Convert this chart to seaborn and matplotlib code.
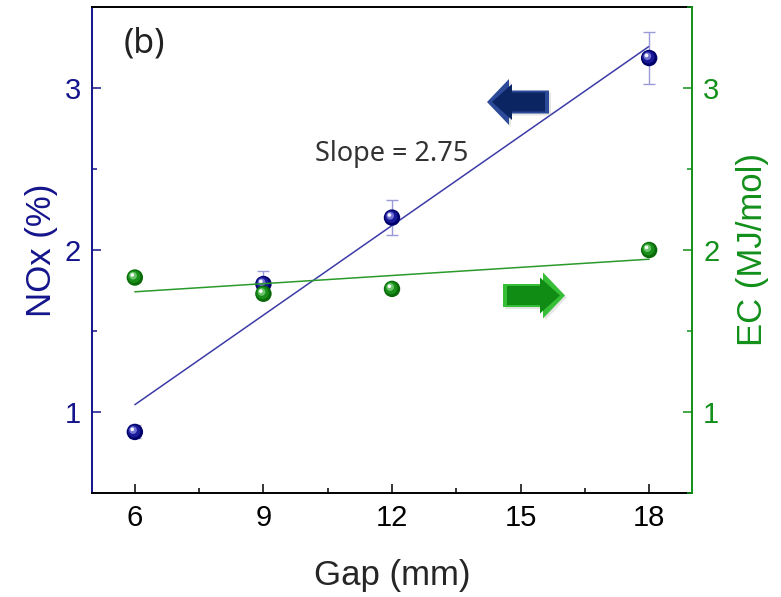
import matplotlib
matplotlib.use("Agg")
import matplotlib.pyplot as plt
import matplotlib.transforms as mtransforms
from matplotlib.patches import Polygon
from matplotlib.ticker import MultipleLocator, FixedLocator
import numpy as np
import pandas as pd
import seaborn as sns

# Measured data
gap_mm = [6, 9, 12, 18]
nox_pct = [0.877, 1.79, 2.20, 3.185]
nox_err = [0.04, 0.08, 0.11, 0.16]
ec_mj_mol = [1.83, 1.73, 1.76, 2.00]

x_ticks = [6, 9, 12, 15, 18]
y_ticks = [1, 2, 3]
slope_label = "Slope = 2.75"
panel_label = "(b)"

NAVY = "#14148c"
GREEN = "#12901a"

sns.set_style("ticks")
plt.rcParams["font.family"] = ["Liberation Sans", "DejaVu Sans"]

df = pd.DataFrame({"gap": gap_mm, "nox": nox_pct, "err": nox_err, "ec": ec_mj_mol})

fig = plt.figure(figsize=(7.81, 5.97), dpi=100)
ax = fig.add_axes([92 / 781, 1 - 493 / 597, 600 / 781, 486 / 597])
ax2 = ax.twinx()

# fit lines
sns.regplot(data=df, x="gap", y="nox", ax=ax, scatter=False, ci=None,
            line_kws=dict(color="#3c3ca8", lw=1.1, zorder=2))
sns.regplot(data=df, x="gap", y="ec", ax=ax2, scatter=False, ci=None,
            line_kws=dict(color="#2a9a2a", lw=1.1, zorder=2))

# error bars
ax.errorbar(df["gap"], df["nox"], yerr=df["err"], fmt="none",
            ecolor="#9a9ad8", elinewidth=1.0, capsize=4.5, capthick=1.0, zorder=3)


def shiny_points(axis, x, y, shades):
    """Draw glossy ball markers as stacked, offset discs."""
    sns.scatterplot(x=x, y=y, ax=axis, s=140, color=shades[0], edgecolor="none",
                    zorder=4, legend=False)
    layers = [(shades[1], 80, -0.8), (shades[2], 30, -1.8), ("#ffffff", 7, -2.6)]
    for z, (col, size, off) in enumerate(layers):
        tr = mtransforms.offset_copy(axis.transData, fig=fig, x=off, y=-off, units="dots")
        axis.scatter(x, y, s=size, color=col, edgecolor="none", transform=tr,
                     zorder=5 + z, alpha=0.95)


shiny_points(ax, df["gap"], df["nox"], ["#00006a", "#1c1c9c", "#7a7ad8"])
shiny_points(ax2, df["gap"], df["ec"], ["#0a6a0a", "#1a921a", "#70c870"])

# axes limits and ticks
for a in (ax, ax2):
    a.set_xlim(5, 19)
    a.set_ylim(0.5, 3.5)
    a.yaxis.set_major_locator(FixedLocator(y_ticks))
    a.yaxis.set_minor_locator(MultipleLocator(0.5))
ax.xaxis.set_major_locator(FixedLocator(x_ticks))
ax.xaxis.set_minor_locator(MultipleLocator(1.5))

ax.tick_params(axis="x", which="major", direction="in", length=6.5, width=1.1,
               labelsize=21, colors="black", pad=8)
ax.tick_params(axis="x", which="minor", direction="in", length=3.8, width=1.1, colors="black")
ax.tick_params(axis="y", which="major", direction="in", length=6.5, width=1.1,
               labelsize=21, colors=NAVY, pad=8)
ax.tick_params(axis="y", which="minor", direction="in", length=3.8, width=1.1, colors=NAVY)
ax2.tick_params(axis="y", which="major", direction="in", length=6.5, width=1.1,
                labelsize=21, colors=GREEN, pad=8)
ax2.tick_params(axis="y", which="minor", direction="in", length=3.8, width=1.1, colors=GREEN)

for s in ("left", "top", "bottom", "right"):
    ax.spines[s].set_linewidth(1.4)
    ax2.spines[s].set_linewidth(1.4)
ax.spines["left"].set_color(NAVY)
ax.spines["bottom"].set_color("black")
ax.spines["top"].set_color("black")
ax.spines["right"].set_visible(False)
ax2.spines["right"].set_color(GREEN)
for s in ("left", "top", "bottom"):
    ax2.spines[s].set_visible(False)

ax.set_xlabel("Gap (mm)", fontsize=25, labelpad=19)
ax.set_ylabel("NOx (%)", fontsize=25, color=NAVY, labelpad=5)
ax2.set_ylabel("EC (MJ/mol)", fontsize=25, color=GREEN, labelpad=12)

ax.text(10.21, 2.59, slope_label, fontsize=19.5, color="#333333",
        family=["Noto Sans", "DejaVu Sans"], ha="left", va="center", zorder=6)
ax.text(0.052, 0.925, panel_label, transform=ax.transAxes, fontsize=24.5, color="#222222",
        family=["Noto Sans", "DejaVu Sans"], ha="left", va="center")


def px_to_axes(px, py):
    return ((px - 92) / 600.0, (493 - py) / 486.0)


def arrow_outline(tip, base, tail, yc, head_h, shaft_h):
    return [(tip, yc), (base, yc - head_h), (base, yc - shaft_h), (tail, yc - shaft_h),
            (tail, yc + shaft_h), (base, yc + shaft_h), (base, yc + head_h)]


def bevel_arrow(tip, base, tail, yc, head_h, shaft_h, light, dark, shadow="#9a9a9a"):
    d = 1 if tail > tip else -1
    sh = [px_to_axes(x + 2, y + 2) for x, y in arrow_outline(tip, base, tail, yc, head_h, shaft_h)]
    ax.add_patch(Polygon(sh, closed=True, transform=ax.transAxes, facecolor=shadow,
                         edgecolor="none", alpha=0.25, zorder=6))
    outer = [px_to_axes(x, y) for x, y in arrow_outline(tip, base, tail, yc, head_h, shaft_h)]
    ax.add_patch(Polygon(outer, closed=True, transform=ax.transAxes, facecolor=light,
                         edgecolor="none", zorder=7))
    inner = [px_to_axes(x, y) for x, y in
             arrow_outline(tip + d * 5, base + d * 3, tail - d * 4, yc, head_h - 5, shaft_h - 2)]
    ax.add_patch(Polygon(inner, closed=True, transform=ax.transAxes, facecolor=dark,
                         edgecolor="none", zorder=8))


# left-pointing arrow -> NOx axis, right-pointing arrow -> EC axis
bevel_arrow(487, 509, 549, 102, 23, 11.5, "#2c4a98", "#0b2563")
bevel_arrow(565, 543, 503, 295.5, 23, 11.5, "#36be36", "#108c14")

fig.savefig("out.png", dpi=100)
